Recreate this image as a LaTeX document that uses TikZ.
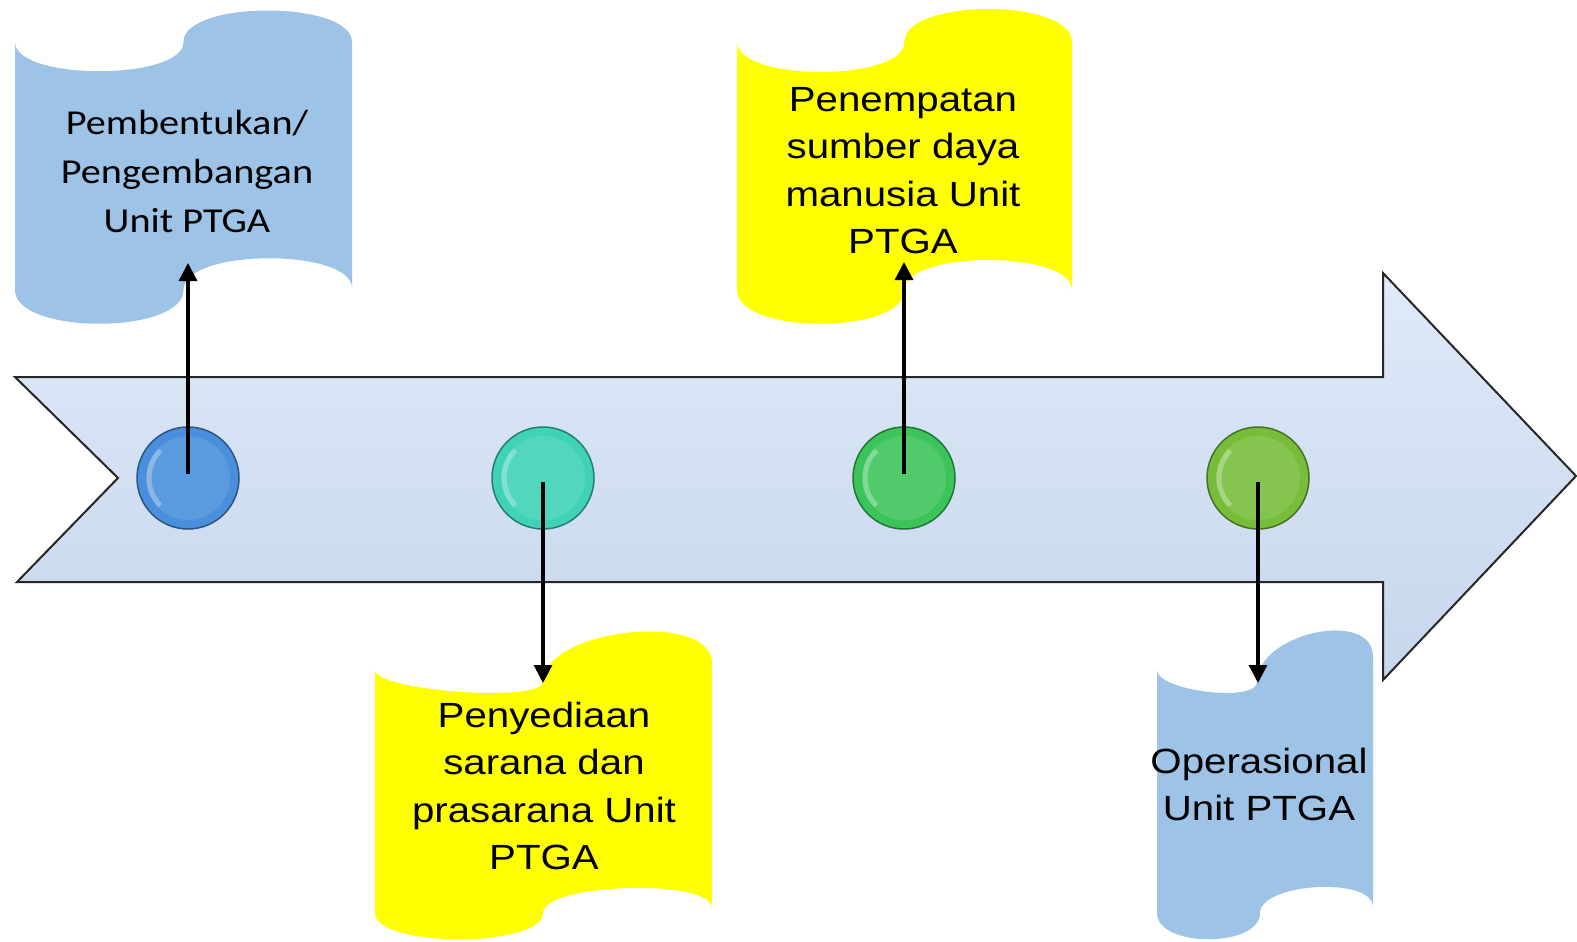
\documentclass[tikz,border=0pt]{standalone}
\usepackage{fontspec}
\setmainfont{Liberation Sans}
\newfontfamily\calfont{Carlito}
\usetikzlibrary{arrows.meta}
\definecolor{tapeblue}{HTML}{9DC3E6}
\definecolor{tapeyellow}{HTML}{FFFF00}
\definecolor{arrowtop}{HTML}{DFEAF9}
\definecolor{arrowbot}{HTML}{C6D6EC}
\definecolor{beadA}{HTML}{4A8FDB}
\definecolor{beadB}{HTML}{3FD2B6}
\definecolor{beadC}{HTML}{3CC45A}
\definecolor{beadD}{HTML}{77BD3A}
\newcommand\mybead[3]{%
  \node[beadnode=#3] (#1) at (#2) {};
  \fill[#3!90!white] (#1.center) circle[radius=42pt];
  \draw[#3!55!white, line width=5pt, opacity=0.75] (#1.center) ++(135:39pt) arc[start angle=135, end angle=225, radius=39pt];
}
\begin{document}
\begin{tikzpicture}[x=1pt,y=-1pt,
  beadnode/.style={circle, minimum size=102pt, inner sep=0pt, draw=#1!60!black, line width=1.5pt, fill=#1},
  conn/.style={line width=3.2pt, -{Triangle[length=18pt,width=18pt]}, shorten <=4pt},
  tapetext/.style={inner sep=0pt},
  arialtext/.style={tapetext, font=\fontsize{35}{47.6}\selectfont},
  calibritext/.style={tapetext, font=\calfont\fontsize{35}{49}\selectfont},
]
\useasboundingbox (0,0) rectangle (1577,942);

% timeline arrow
\path[draw=black!85, line width=2pt, line join=miter, top color=arrowtop, bottom color=arrowbot]
  (15,377) -- (1383,377) -- (1383,273) -- (1576,476) -- (1383,680) -- (1383,582)
  -- (17,582) -- (118,478) -- cycle;

% tapes
\fill[tapeblue] (15,42) .. controls (15,81) and (183.5,81) .. (183.5,42)
  .. controls (183.5,0) and (352,0) .. (352,42) -- (352,288)
  .. controls (352,248) and (183.5,248) .. (183.5,290)
  .. controls (183.5,335) and (15,335) .. (15,290) -- cycle;
\fill[tapeyellow] (737,42) .. controls (737,82) and (904.5,82) .. (904.5,42)
  .. controls (904.5,-2) and (1072,-2) .. (1072,42) -- (1072,290)
  .. controls (1072,250) and (904.5,250) .. (904.5,290)
  .. controls (904.5,335) and (737,335) .. (737,290) -- cycle;
\fill[tapeyellow] (375,670) .. controls (375,691) and (543,703) .. (543,682)
  .. controls (543,629) and (712,610) .. (712,663) -- (712,908)
  .. controls (712,878) and (543,883) .. (543,913)
  .. controls (543,948) and (375,948) .. (375,913) -- cycle;
\fill[tapeblue] (1157,670) .. controls (1157,691) and (1257,703) .. (1257,682)
  .. controls (1257,633) and (1373,608) .. (1373,657) -- (1373,907)
  .. controls (1373,876) and (1260,883) .. (1260,913)
  .. controls (1260,948) and (1157,948) .. (1157,913) -- cycle;

% texts
\node[calibritext] (t1) at (187,174) {\scalebox{1.15}[1]{\begin{tabular}{@{}c@{}}Pembentukan/\\Pengembangan\\Unit PTGA\end{tabular}}};
\node[arialtext] (t2) at (903,173) {\scalebox{1.15}[1]{\begin{tabular}{@{}c@{}}Penempatan\\sumber daya\\manusia Unit\\PTGA\end{tabular}}};
\node[arialtext] (t3) at (544,789) {\scalebox{1.15}[1]{\begin{tabular}{@{}c@{}}Penyediaan\\sarana dan\\prasarana Unit\\PTGA\end{tabular}}};
\node[arialtext] (t4) at (1259,787.5) {\scalebox{1.15}[1]{\begin{tabular}{@{}c@{}}Operasional\\Unit PTGA\end{tabular}}};

% beads
\mybead{c1}{188,478}{beadA}
\mybead{c2}{543,478}{beadB}
\mybead{c3}{904,478}{beadC}
\mybead{c4}{1258,478}{beadD}

% connector ends
\coordinate (e1) at (188,263);
\coordinate (e2) at (543,683);
\coordinate (e3) at (904,262);
\coordinate (e4) at (1258,683);

\draw[conn] (c1.center) -- (e1);
\draw[conn] (c2.center) -- (e2);
\draw[conn] (c3.center) -- (e3);
\draw[conn] (c4.center) -- (e4);
\end{tikzpicture}
\end{document}
